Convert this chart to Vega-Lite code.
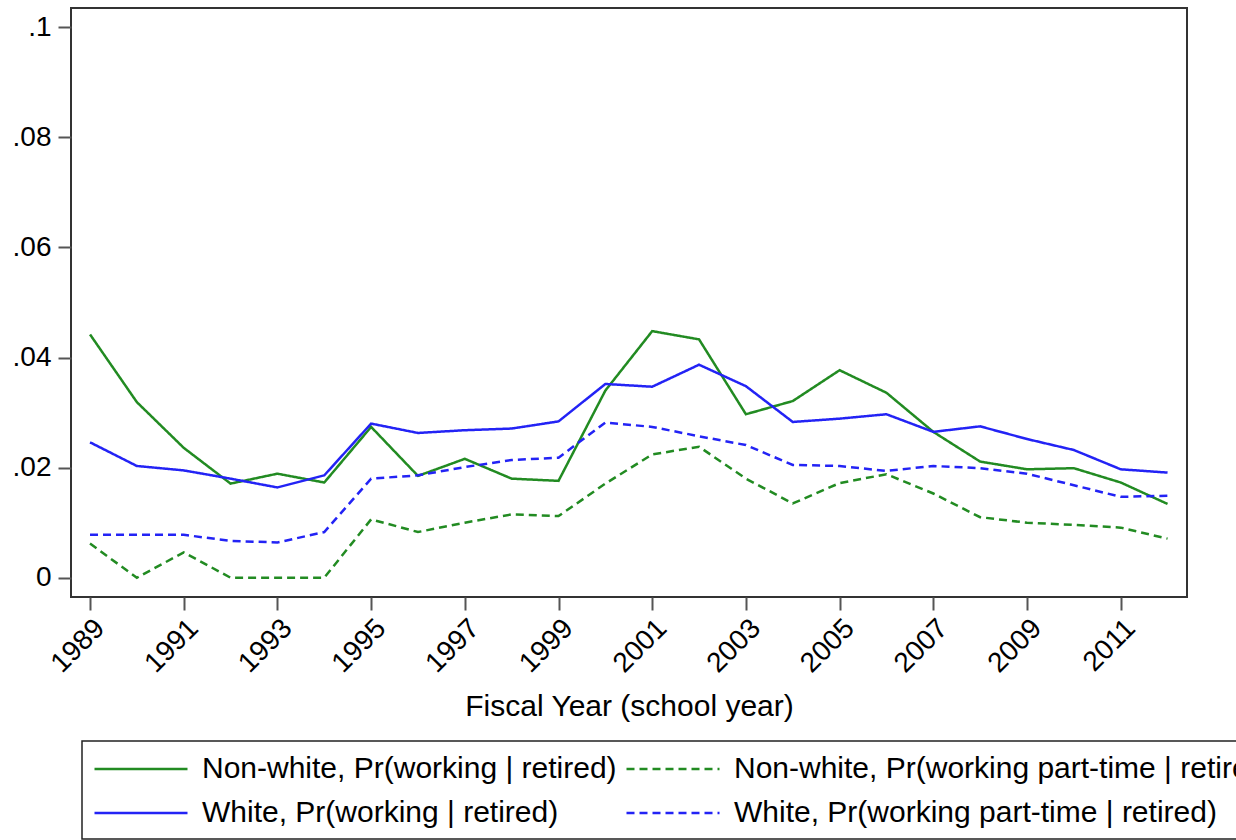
{
  "$schema": "https://vega.github.io/schema/vega-lite/v6.json",
  "autosize": {"type": "none"},
  "padding": {"left": 71, "top": 8, "right": 49, "bottom": 243},
  "width": 1116,
  "height": 589,
  "background": "white",
  "config": {
    "font": "Liberation Sans",
    "view": {"stroke": "#333333", "strokeWidth": 2},
    "axis": {"grid": false, "domain": false, "tickColor": "#555555", "tickWidth": 2, "tickSize": 13, "labelColor": "#000000", "titleColor": "#000000", "labelFont": "Liberation Sans", "titleFont": "Liberation Sans", "titleFontWeight": "normal"},
    "legend": {
      "orient": "none", "legendX": 11, "legendY": 733, "title": null, "columns": 2,
      "symbolType": "M-1,0H5", "symbolSize": 961, "symbolStrokeWidth": 2.5,
      "labelFontSize": 30, "labelFont": "Liberation Sans", "labelColor": "#000000", "labelLimit": 1000, "labelOffset": 75,
      "columnPadding": 4, "rowPadding": 12, "padding": 11,
      "strokeColor": "#222222", "strokeWidth": 1.5, "direction": "horizontal"
    }
  },
  "data": {"values": [
    {"year":1989,"series":"Non-white, Pr(working | retired)","value":0.0442},
    {"year":1990,"series":"Non-white, Pr(working | retired)","value":0.0319},
    {"year":1991,"series":"Non-white, Pr(working | retired)","value":0.0236},
    {"year":1992,"series":"Non-white, Pr(working | retired)","value":0.0171},
    {"year":1993,"series":"Non-white, Pr(working | retired)","value":0.0189},
    {"year":1994,"series":"Non-white, Pr(working | retired)","value":0.0173},
    {"year":1995,"series":"Non-white, Pr(working | retired)","value":0.0274},
    {"year":1996,"series":"Non-white, Pr(working | retired)","value":0.0185},
    {"year":1997,"series":"Non-white, Pr(working | retired)","value":0.0216},
    {"year":1998,"series":"Non-white, Pr(working | retired)","value":0.0180},
    {"year":1999,"series":"Non-white, Pr(working | retired)","value":0.0176},
    {"year":2000,"series":"Non-white, Pr(working | retired)","value":0.0340},
    {"year":2001,"series":"Non-white, Pr(working | retired)","value":0.0448},
    {"year":2002,"series":"Non-white, Pr(working | retired)","value":0.0433},
    {"year":2003,"series":"Non-white, Pr(working | retired)","value":0.0297},
    {"year":2004,"series":"Non-white, Pr(working | retired)","value":0.0321},
    {"year":2005,"series":"Non-white, Pr(working | retired)","value":0.0377},
    {"year":2006,"series":"Non-white, Pr(working | retired)","value":0.0336},
    {"year":2007,"series":"Non-white, Pr(working | retired)","value":0.0265},
    {"year":2008,"series":"Non-white, Pr(working | retired)","value":0.0211},
    {"year":2009,"series":"Non-white, Pr(working | retired)","value":0.0197},
    {"year":2010,"series":"Non-white, Pr(working | retired)","value":0.0199},
    {"year":2011,"series":"Non-white, Pr(working | retired)","value":0.0173},
    {"year":2012,"series":"Non-white, Pr(working | retired)","value":0.0134},
    {"year":1989,"series":"Non-white, Pr(working part-time | retired)","value":0.0062},
    {"year":1990,"series":"Non-white, Pr(working part-time | retired)","value":0.0},
    {"year":1991,"series":"Non-white, Pr(working part-time | retired)","value":0.0046},
    {"year":1992,"series":"Non-white, Pr(working part-time | retired)","value":0.0},
    {"year":1993,"series":"Non-white, Pr(working part-time | retired)","value":0.0},
    {"year":1994,"series":"Non-white, Pr(working part-time | retired)","value":0.0},
    {"year":1995,"series":"Non-white, Pr(working part-time | retired)","value":0.0106},
    {"year":1996,"series":"Non-white, Pr(working part-time | retired)","value":0.0083},
    {"year":1997,"series":"Non-white, Pr(working part-time | retired)","value":0.0100},
    {"year":1998,"series":"Non-white, Pr(working part-time | retired)","value":0.0115},
    {"year":1999,"series":"Non-white, Pr(working part-time | retired)","value":0.0112},
    {"year":2000,"series":"Non-white, Pr(working part-time | retired)","value":0.0171},
    {"year":2001,"series":"Non-white, Pr(working part-time | retired)","value":0.0224},
    {"year":2002,"series":"Non-white, Pr(working part-time | retired)","value":0.0238},
    {"year":2003,"series":"Non-white, Pr(working part-time | retired)","value":0.0180},
    {"year":2004,"series":"Non-white, Pr(working part-time | retired)","value":0.0135},
    {"year":2005,"series":"Non-white, Pr(working part-time | retired)","value":0.0172},
    {"year":2006,"series":"Non-white, Pr(working part-time | retired)","value":0.0188},
    {"year":2007,"series":"Non-white, Pr(working part-time | retired)","value":0.0153},
    {"year":2008,"series":"Non-white, Pr(working part-time | retired)","value":0.0110},
    {"year":2009,"series":"Non-white, Pr(working part-time | retired)","value":0.0100},
    {"year":2010,"series":"Non-white, Pr(working part-time | retired)","value":0.0096},
    {"year":2011,"series":"Non-white, Pr(working part-time | retired)","value":0.0091},
    {"year":2012,"series":"Non-white, Pr(working part-time | retired)","value":0.0071},
    {"year":1989,"series":"White, Pr(working | retired)","value":0.0246},
    {"year":1990,"series":"White, Pr(working | retired)","value":0.0203},
    {"year":1991,"series":"White, Pr(working | retired)","value":0.0195},
    {"year":1992,"series":"White, Pr(working | retired)","value":0.0180},
    {"year":1993,"series":"White, Pr(working | retired)","value":0.0164},
    {"year":1994,"series":"White, Pr(working | retired)","value":0.0186},
    {"year":1995,"series":"White, Pr(working | retired)","value":0.0280},
    {"year":1996,"series":"White, Pr(working | retired)","value":0.0263},
    {"year":1997,"series":"White, Pr(working | retired)","value":0.0268},
    {"year":1998,"series":"White, Pr(working | retired)","value":0.0271},
    {"year":1999,"series":"White, Pr(working | retired)","value":0.0284},
    {"year":2000,"series":"White, Pr(working | retired)","value":0.0352},
    {"year":2001,"series":"White, Pr(working | retired)","value":0.0347},
    {"year":2002,"series":"White, Pr(working | retired)","value":0.0387},
    {"year":2003,"series":"White, Pr(working | retired)","value":0.0348},
    {"year":2004,"series":"White, Pr(working | retired)","value":0.0283},
    {"year":2005,"series":"White, Pr(working | retired)","value":0.0289},
    {"year":2006,"series":"White, Pr(working | retired)","value":0.0297},
    {"year":2007,"series":"White, Pr(working | retired)","value":0.0265},
    {"year":2008,"series":"White, Pr(working | retired)","value":0.0275},
    {"year":2009,"series":"White, Pr(working | retired)","value":0.0252},
    {"year":2010,"series":"White, Pr(working | retired)","value":0.0232},
    {"year":2011,"series":"White, Pr(working | retired)","value":0.0197},
    {"year":2012,"series":"White, Pr(working | retired)","value":0.0191},
    {"year":1989,"series":"White, Pr(working part-time | retired)","value":0.0078},
    {"year":1990,"series":"White, Pr(working part-time | retired)","value":0.0078},
    {"year":1991,"series":"White, Pr(working part-time | retired)","value":0.0078},
    {"year":1992,"series":"White, Pr(working part-time | retired)","value":0.0067},
    {"year":1993,"series":"White, Pr(working part-time | retired)","value":0.0064},
    {"year":1994,"series":"White, Pr(working part-time | retired)","value":0.0083},
    {"year":1995,"series":"White, Pr(working part-time | retired)","value":0.0180},
    {"year":1996,"series":"White, Pr(working part-time | retired)","value":0.0186},
    {"year":1997,"series":"White, Pr(working part-time | retired)","value":0.0201},
    {"year":1998,"series":"White, Pr(working part-time | retired)","value":0.0214},
    {"year":1999,"series":"White, Pr(working part-time | retired)","value":0.0218},
    {"year":2000,"series":"White, Pr(working part-time | retired)","value":0.0282},
    {"year":2001,"series":"White, Pr(working part-time | retired)","value":0.0274},
    {"year":2002,"series":"White, Pr(working part-time | retired)","value":0.0257},
    {"year":2003,"series":"White, Pr(working part-time | retired)","value":0.0241},
    {"year":2004,"series":"White, Pr(working part-time | retired)","value":0.0205},
    {"year":2005,"series":"White, Pr(working part-time | retired)","value":0.0203},
    {"year":2006,"series":"White, Pr(working part-time | retired)","value":0.0194},
    {"year":2007,"series":"White, Pr(working part-time | retired)","value":0.0203},
    {"year":2008,"series":"White, Pr(working part-time | retired)","value":0.0199},
    {"year":2009,"series":"White, Pr(working part-time | retired)","value":0.0189},
    {"year":2010,"series":"White, Pr(working part-time | retired)","value":0.0168},
    {"year":2011,"series":"White, Pr(working part-time | retired)","value":0.0147},
    {"year":2012,"series":"White, Pr(working part-time | retired)","value":0.0149}
  ]},
  "mark": {"type": "line", "strokeWidth": 2.5, "clip": true},
  "encoding": {
    "x": {
      "field": "year", "type": "quantitative",
      "scale": {"domain": [1988.594, 2012.415], "nice": false, "zero": false},
      "axis": {"values": [1989,1991,1993,1995,1997,1999,2001,2003,2005,2007,2009,2011], "format": "d", "labelAngle": -45, "labelFontSize": 28, "labelPadding": 4, "title": "Fiscal Year (school year)", "titleFontSize": 30, "titleY": 118, "titleBaseline": "alphabetic"}
    },
    "y": {
      "field": "value", "type": "quantitative",
      "scale": {"domain": [-0.0035, 0.1035], "nice": false, "zero": false},
      "axis": {"values": [0, 0.02, 0.04, 0.06, 0.08, 0.1], "labelExpr": "datum.value == 0 ? '0' : substring(format(datum.value, '.2~f'), 1)", "labelFontSize": 28, "labelPadding": 7, "title": null}
    },
    "color": {
      "field": "series", "type": "nominal",
      "scale": {
        "domain": ["Non-white, Pr(working | retired)", "Non-white, Pr(working part-time | retired)", "White, Pr(working | retired)", "White, Pr(working part-time | retired)"],
        "range": ["#228B22", "#228B22", "#2323F5", "#2323F5"]
      }
    },
    "strokeDash": {
      "field": "series", "type": "nominal",
      "scale": {
        "domain": ["Non-white, Pr(working | retired)", "Non-white, Pr(working part-time | retired)", "White, Pr(working | retired)", "White, Pr(working part-time | retired)"],
        "range": [[1, 0], [8, 5], [1, 0], [8, 5]]
      }
    }
  }
}
